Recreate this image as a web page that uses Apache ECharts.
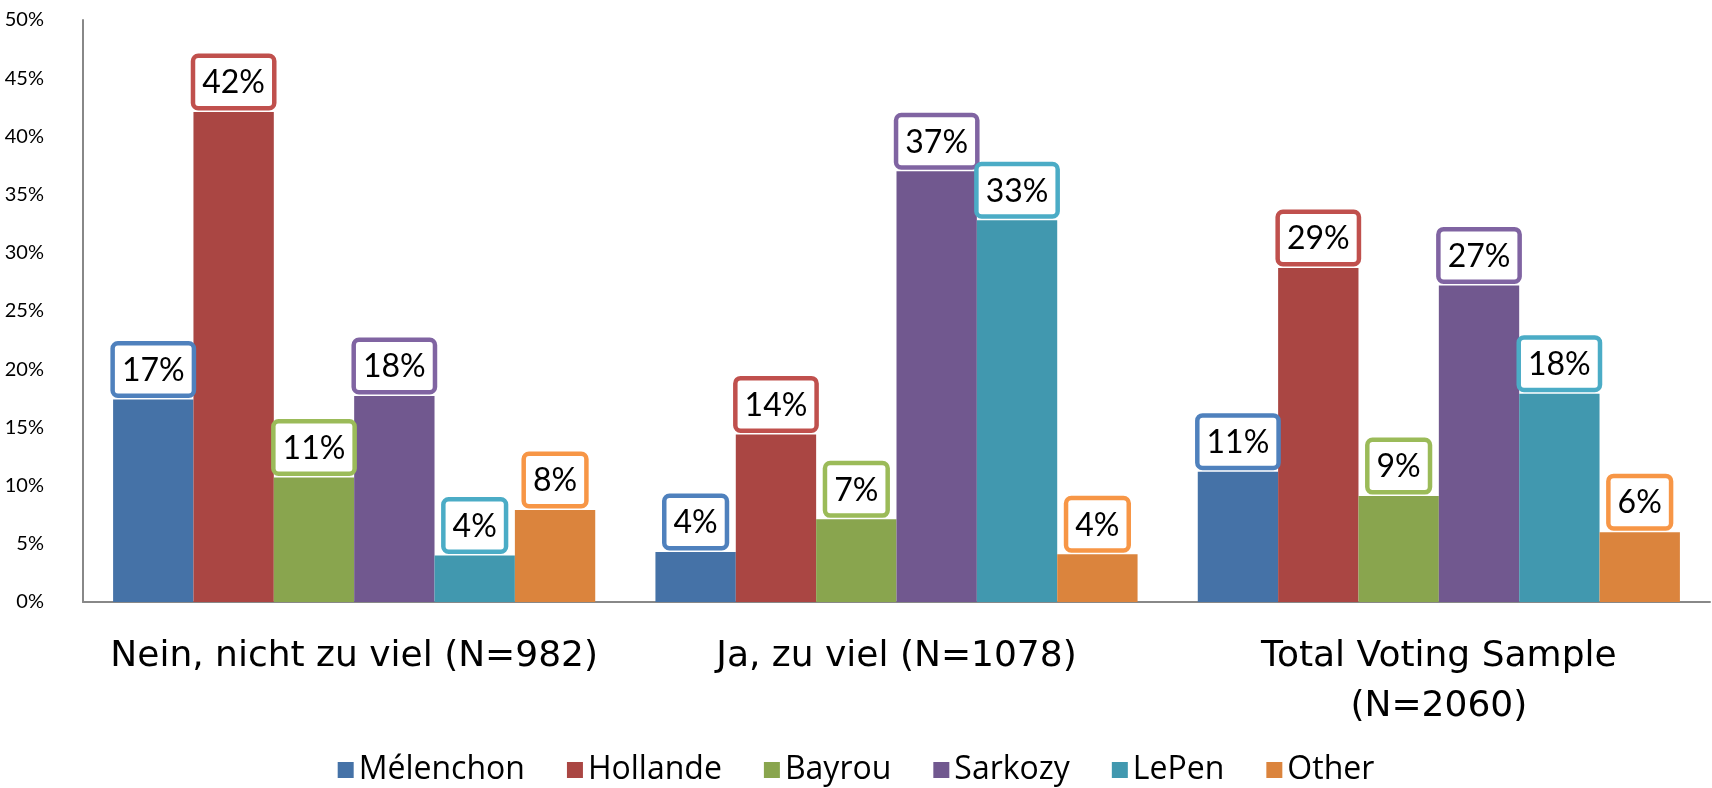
<!DOCTYPE html>
<html>
<head>
<meta charset="utf-8">
<script src="https://cdn.jsdelivr.net/npm/echarts@6/dist/echarts.min.js"></script>
<style>
  html, body { margin: 0; padding: 0; background: #fff; }
  #chart { width: 1712px; height: 788px; }
</style>
</head>
<body>
<div id="chart"></div>
<script>
// categories on the x axis
const categories = ['Nein, nicht zu viel (N=982)', 'Ja, zu viel (N=1078)', 'Total Voting Sample\n(N=2060)']
const candidates = ['Mélenchon', 'Hollande', 'Bayrou', 'Sarkozy', 'LePen', 'Other']

// values in percent
const melenchon = [17.4, 4.3, 11.2]
const hollande = [42.1, 14.4, 28.7]
const bayrou = [10.7, 7.1, 9.1]
const sarkozy = [17.7, 37.0, 27.2]
const lepen = [4.0, 32.8, 17.9]
const other = [7.9, 4.1, 6.0]

const yTicks = [0, 5, 10, 15, 20, 25, 30, 35, 40, 45, 50]

const seriesValues = [melenchon, hollande, bayrou, sarkozy, lepen, other]
const barColors = ['#4572A7', '#AA4643', '#89A54E', '#71588F', '#4198AF', '#DB843D']
const boxColors = ['#4F81BD', '#C0504D', '#9BBB59', '#8064A2', '#4BACC6', '#F79646']

const chart = echarts.init(document.getElementById('chart'))

const series = candidates.map((name, i) => ({
  name: name,
  type: 'bar',
  data: seriesValues[i],
  barGap: '0%',
  barCategoryGap: '11.1%',
  itemStyle: { color: barColors[i] },
  label: {
    show: true,
    position: 'top',
    distance: 6,
    formatter: p => Math.round(p.value) + '%',
    fontFamily: 'Lato',
    fontSize: 32,
    color: '#000',
    lineHeight: 40,
    backgroundColor: '#fff',
    borderColor: boxColors[i],
    borderWidth: 4.5,
    borderRadius: 3,
    padding: [5, 7, 3, 7]
  }
}))

chart.setOption({
  animation: false,
  grid: { left: 83, right: 2, top: 20, bottom: 186 },
  legend: {
    data: candidates,
    top: 749,
    left: 'center',
    icon: 'rect',
    itemWidth: 16,
    itemHeight: 16,
    itemGap: 42,
    itemStyle: { borderWidth: 0 },
    textStyle: { fontFamily: 'Open Sans', fontSize: 32, color: '#000' }
  },
  xAxis: {
    type: 'category',
    data: categories,
    axisTick: { show: false },
    axisLine: { lineStyle: { color: '#888', width: 2 } },
    axisLabel: {
      interval: 0,
      hideOverlap: false,
      margin: 30,
      fontFamily: 'DejaVu Sans',
      fontSize: 36,
      lineHeight: 50,
      color: '#000'
    }
  },
  yAxis: {
    type: 'value',
    min: yTicks[0],
    max: yTicks[yTicks.length - 1],
    interval: 5,
    splitLine: { show: false },
    axisTick: { show: false },
    axisLine: { show: true, lineStyle: { color: '#888', width: 2 } },
    axisLabel: {
      margin: 39,
      fontFamily: 'Lato',
      fontSize: 20,
      color: '#000',
      formatter: v => v + '%'
    }
  },
  series: series
})
</script>
</body>
</html>
